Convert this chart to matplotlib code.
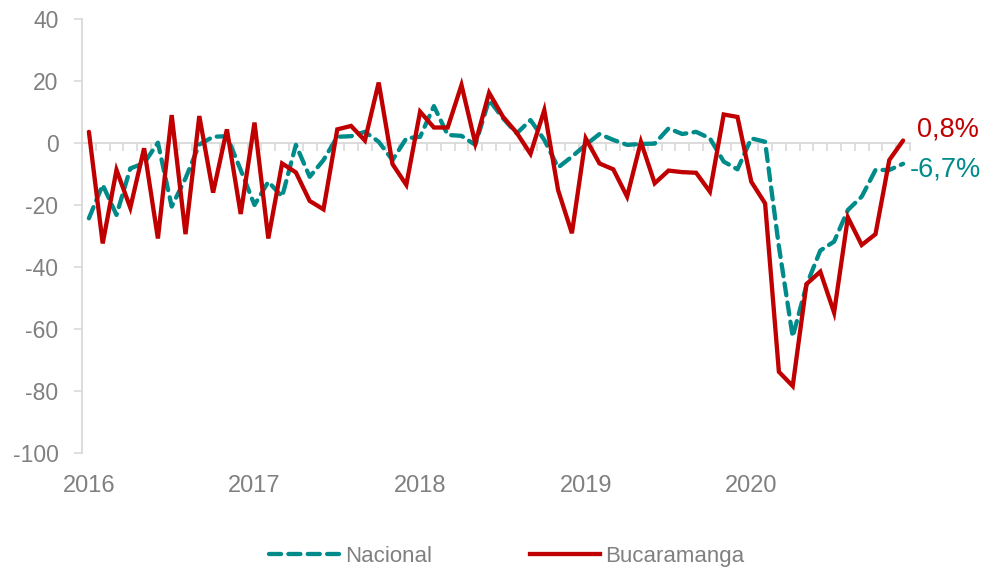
import matplotlib
matplotlib.use("Agg")
import matplotlib.pyplot as plt
from matplotlib import font_manager
from matplotlib.lines import Line2D

names = {f.name for f in font_manager.fontManager.ttflist}
FONT = "Liberation Sans Narrow" if "Liberation Sans Narrow" in names else "Liberation Sans"
plt.rcParams["font.family"] = [FONT, "DejaVu Sans"]
plt.rcParams["axes.unicode_minus"] = False

year_labels = ["2016", "2017", "2018", "2019", "2020"]
months_per_year = 12

nacional = [-24.3, -13.5, -23.2, -8.2, -6.5, 0.1, -20.5, -11.4, -0.5, 2.0, 2.2, -8.7,
            -20.0, -12.5, -17.3, -0.6, -10.9, -5.5, 2.0, 2.2, 3.6, 0.4, -5.5, 1.5,
            2.0, 11.9, 2.6, 2.3, -0.6, 13.9, 8.0, 3.1, 7.4, 1.0, -7.9, -4.4,
            -0.6, 2.9, 1.0, -0.6, -0.3, -0.2, 4.7, 2.9, 3.6, 1.5, -6.0, -8.5,
            1.5, 0.4, -33.4, -62.5, -45.8, -34.7, -31.8, -21.6, -17.3, -8.7, -8.7, -6.7]

bucaramanga = [3.6, -32.4, -8.7, -20.9, -1.7, -30.8, 9.0, -29.4, 8.7, -16.0, 4.4, -22.9,
               6.6, -30.8, -6.6, -9.5, -18.7, -21.4, 4.4, 5.5, 0.8, 19.5, -6.8, -13.5,
               10.1, 5.0, 5.0, 18.7, -0.1, 16.2, 8.5, 3.3, -3.5, 10.6, -15.2, -29.1,
               1.5, -6.6, -8.5, -17.3, 0.4, -13.0, -8.9, -9.4, -9.6, -15.7, 9.2, 8.4,
               -12.5, -19.5, -73.8, -78.4, -45.5, -41.5, -54.7, -24.0, -32.9, -29.4, -5.5, 0.8]

end_labels = ["0,8%", "-6,7%"]
series_names = ["Nacional", "Bucaramanga"]

TEAL = "#008B8B"
RED = "#C00000"
GRAY_TXT = "#808080"
GRAY_AX = "#D9D9D9"

fig = plt.figure(figsize=(9.98, 5.71), dpi=100)
ax = fig.add_axes([82/998, 1-453/571, (910-82)/998, (453-19)/571])

n = len(nacional)
x = list(range(n))
dash = (0, (2.8, 1.7))
ax.plot(x, nacional, color=TEAL, lw=3.1, linestyle=dash, dash_capstyle="round", zorder=3)
ax.plot(x, bucaramanga, color=RED, lw=3.1, solid_capstyle="round", solid_joinstyle="miter", zorder=4)

ax.set_xlim(-0.5, n - 0.5)
ax.set_ylim(-100, 40)
ax.set_yticks(range(-100, 41, 20))
ax.tick_params(axis="y", direction="out", length=6, width=1.2, color=GRAY_AX,
               labelcolor=GRAY_TXT, labelsize=16.5, pad=11)
ax.set_xticks([i - 0.5 for i in range(n + 1)])
ax.set_xticklabels([])
ax.tick_params(axis="x", direction="out", length=6, width=1.2, color=GRAY_AX)

for s in ["top", "right"]:
    ax.spines[s].set_visible(False)
ax.spines["left"].set_color(GRAY_AX)
ax.spines["left"].set_linewidth(1.3)
ax.spines["bottom"].set_color(GRAY_AX)
ax.spines["bottom"].set_linewidth(1.3)
ax.spines["bottom"].set_position(("data", 0))

trans = ax.get_xaxis_transform()
for i, lab in enumerate(year_labels):
    ax.text(i * months_per_year, -0.076, lab, transform=trans, ha="center", va="center",
            fontsize=17, color=GRAY_TXT)

ax.annotate(end_labels[0], xy=(n - 1, bucaramanga[-1]), xytext=(10, 8),
            textcoords="offset points", ha="left", va="center", fontsize=19.5, color=RED,
            annotation_clip=False)
ax.annotate(end_labels[1], xy=(n - 1, nacional[-1]), xytext=(4.5, -4),
            textcoords="offset points", ha="left", va="center", fontsize=19.5, color=TEAL,
            annotation_clip=False)

handles = [Line2D([], [], color=TEAL, lw=3.1, linestyle=dash, dash_capstyle="round"),
           Line2D([], [], color=RED, lw=3.1)]
leg = fig.legend(handles, series_names, loc="center", bbox_to_anchor=(0.508, 0.025),
                 ncol=2, frameon=False, fontsize=16, handlelength=3.15, handletextpad=0.25,
                 columnspacing=4.4, borderaxespad=0)
for t in leg.get_texts():
    t.set_color(GRAY_TXT)

fig.savefig("out.png", dpi=100)
